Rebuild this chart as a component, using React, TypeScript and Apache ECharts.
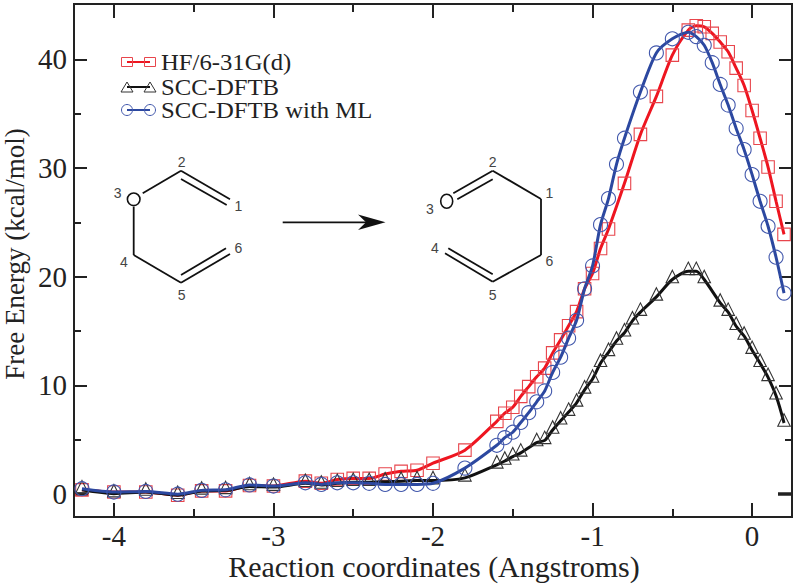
import React, { useEffect, useRef } from "react";
import * as echarts from "echarts";

const seriesNames = ["HF/6-31G(d)", "SCC-DFTB", "SCC-DFTB with ML"];
const xAxisTitle = "Reaction coordinates (Angstroms)";
const yAxisTitle = "Free Energy (kcal/mol)";
const xMajor = [-4, -3, -2, -1, 0];
const xMinor = [-3.5, -2.5, -1.5, -0.5];
const yMajor = [0, 10, 20, 30, 40];
const yMinor = [5, 15, 25, 35];
const yZero = [0];

const redX = [-4.2,-4,-3.8,-3.6,-3.45,-3.3,-3.15,-3,-2.8,-2.7,-2.6,-2.5,-2.4,-2.3,-2.2,-2.1,-2,-1.8,-1.6,-1.55,-1.5,-1.45,-1.4,-1.35,-1.3,-1.25,-1.2,-1.15,-1.1,-1.05,-1,-0.95,-0.9,-0.8,-0.7,-0.6,-0.5,-0.4,-0.35,-0.3,-0.25,-0.2,-0.15,-0.1,-0.05,0,0.05,0.1,0.15,0.2];
const redY = [0.4,0.2,0.2,-0.1,0.3,0.3,0.8,0.75,1.2,1.0,1.35,1.45,1.45,1.85,2.1,2.2,2.85,4.05,6.7,7.45,8,9,9.9,10.8,11.6,13,14.2,15.5,16.8,18.9,20.3,22.6,24.4,28.6,33.1,36.6,40.4,42.7,43.1,43,42.4,41.6,40.7,39.2,37.6,35.3,32.75,30.1,26.95,23.9];

const blackX = [-4.2,-4,-3.8,-3.6,-3.45,-3.3,-3.15,-3,-2.8,-2.7,-2.6,-2.5,-2.4,-2.3,-2.2,-2.1,-2,-1.8,-1.6,-1.55,-1.5,-1.45,-1.35,-1.3,-1.25,-1.2,-1.15,-1.1,-1.05,-1,-0.95,-0.9,-0.85,-0.8,-0.75,-0.7,-0.6,-0.5,-0.4,-0.35,-0.3,-0.2,-0.15,-0.1,-0.05,0,0.05,0.1,0.15,0.2];
const blackY = [0.4,0.05,0.2,-0.1,0.3,0.35,0.7,0.65,1.0,0.85,1.0,1.1,1.1,1.15,1.2,1.25,1.25,1.5,2.7,3.05,3.45,3.8,4.75,4.95,5.9,6.75,7.55,8.4,9.6,10.6,12.05,13.05,14.1,14.85,15.95,16.75,18.15,19.75,20.5,20.5,19.75,17.6,16.75,15.45,14.55,13.25,12.05,10.75,9.05,6.55];

const blueX = [-4.2,-4,-3.8,-3.6,-3.45,-3.3,-3.15,-3,-2.8,-2.7,-2.6,-2.5,-2.4,-2.3,-2.2,-2.1,-2,-1.8,-1.6,-1.55,-1.5,-1.45,-1.4,-1.35,-1.3,-1.25,-1.2,-1.15,-1.1,-1.05,-1,-0.95,-0.9,-0.85,-0.8,-0.7,-0.6,-0.5,-0.4,-0.35,-0.3,-0.25,-0.2,-0.15,-0.1,-0.05,0,0.05,0.1,0.15,0.2];
const blueY = [0.5,0.2,0.25,0,0.35,0.4,0.85,0.75,1.05,0.9,1.05,1.05,1.0,0.9,0.9,0.9,1.0,2.4,4.5,5.2,5.7,6.6,7.5,8.5,9.5,11.2,12.6,14.35,16,18.9,21,24.8,27.2,30.35,32.75,37,40.6,41.9,42.5,42.1,41.3,39.7,37.7,35.8,33.65,31.7,29.4,26.95,24.65,21.8,18.5];

const zip = (xs: number[], ys: number[]) => xs.map((x, i) => [x, ys[i]]);

const SERIF = "Liberation Serif";
const SANS = "Liberation Sans";
const INK = "#222";
const RED = "#ee1520";
const RED_MARK = "#e8454c";
const BLACK = "#111";
const BLACK_MARK = "#333";
const BLUE = "#2c48a0";
const BLUE_MARK = "#4258ac";

const bond = (x1: number, y1: number, x2: number, y2: number) => ({
  type: "line", silent: true, z: 20,
  shape: { x1, y1, x2, y2 },
  style: { stroke: "#111", lineWidth: 1.8 },
});
const atom = (text: string, x: number, y: number) => ({
  type: "text", silent: true, z: 20, x, y,
  style: { text, fontFamily: SANS, fontSize: 14, fill: "#444", align: "center", verticalAlign: "middle" },
});
const legendRow = (y: number, i: number) => {
  const c = [RED, BLACK, BLUE][i];
  const m = [RED_MARK, BLACK_MARK, BLUE_MARK][i];
  const mark = (x: number) => {
    const base = { silent: true, z: 21, style: { fill: "none", stroke: m, lineWidth: 1 } };
    if (i === 0) return { ...base, type: "rect", shape: { x: x - 5.5, y: y - 4.5, width: 11, height: 9 } };
    if (i === 1) return { ...base, type: "polygon", shape: { points: [[x - 6, y + 5], [x, y - 5], [x + 6, y + 5]] } };
    return { ...base, type: "circle", shape: { cx: x, cy: y, r: 5.5 } };
  };
  return [
    { type: "line", silent: true, z: 20, shape: { x1: 127, y1: y, x2: 150, y2: y }, style: { stroke: c, lineWidth: 2 } },
    mark(127), mark(150),
    { type: "text", silent: true, z: 20, x: 161, y, scaleX: 1.074, style: { text: seriesNames[i], fontFamily: SERIF, fontSize: 23, fill: "#222", verticalAlign: "middle" } },
  ];
};

const xAx = (position: string, ticks: number[], length: number, labels: number[]) => ({
  type: "value", min: -4.25, max: 0.25, position, scale: false,
  axisLine: { show: true, onZero: false, lineStyle: { color: INK, width: 2 } },
  axisTick: { show: true, inside: true, length, customValues: ticks, lineStyle: { color: INK, width: 2 } },
  axisLabel: labels.length
    ? { show: true, customValues: labels, margin: 4, fontFamily: SERIF, fontSize: 29, color: INK, formatter: (v: number) => String(v) }
    : { show: false },
  splitLine: { show: false },
});
const yAx = (position: string, ticks: number[], length: number, labels: number[], width = 2) => ({
  type: "value", min: -2.1, max: 45.1, position,
  axisLine: { show: true, onZero: false, lineStyle: { color: INK, width: 2 } },
  axisTick: { show: true, inside: true, length, customValues: ticks, lineStyle: { color: INK, width } },
  axisLabel: labels.length
    ? { show: true, customValues: labels, margin: 7, fontFamily: SERIF, fontSize: 29, color: INK, formatter: (v: number) => String(v) }
    : { show: false },
  splitLine: { show: false },
});
const line = (name: string, data: number[][], color: string, mark: string, symbol: string, size: number, z: number, offset: number[]) => ({
  type: "line", name, data, xAxisIndex: 0, yAxisIndex: 0, z,
  smooth: 0.25, symbol, symbolSize: size, symbolOffset: offset, showSymbol: true, showAllSymbol: true,
  lineStyle: { color, width: 3 },
  itemStyle: { color: "rgba(0,0,0,0)", borderColor: mark, borderWidth: 1.1 },
  emphasis: { disabled: true },
});

export default function App() {
  const ref = useRef<HTMLDivElement>(null);
  useEffect(() => {
    const chart = echarts.init(ref.current!, undefined, { renderer: "svg" });
    chart.setOption({
      animation: false,
      backgroundColor: "#fff",
      textStyle: { fontFamily: SERIF },
      grid: { left: 74, right: 5, top: 4, bottom: 68, containLabel: false },
      xAxis: [
        xAx("bottom", xMajor, 14, xMajor),
        xAx("bottom", xMinor, 8, []),
        xAx("top", xMajor, 14, []),
        xAx("top", xMinor, 8, []),
      ],
      yAxis: [
        yAx("left", yMajor, 13, yMajor),
        yAx("left", yMinor, 7, []),
        yAx("right", yMajor, 13, []),
        yAx("right", yMinor, 7, []),
        yAx("left", yZero, 14, [], 3.5),
        yAx("right", yZero, 14, [], 3.5),
      ],
      series: [
        line(seriesNames[0], zip(redX, redY), RED, RED_MARK, "rect", 12.5, 3, [0, 0]),
        line(seriesNames[1], zip(blackX, blackY), BLACK, BLACK_MARK, "triangle", 12.5, 4, [0, -3]),
        line(seriesNames[2], zip(blueX, blueY), BLUE, BLUE_MARK, "circle", 14, 5, [0, 0]),
      ],
      graphic: [
        { type: "text", silent: true, x: 434, y: 566, style: { text: xAxisTitle, fontFamily: SERIF, fontSize: 30, fill: INK, align: "center", verticalAlign: "middle" } },
        { type: "text", silent: true, x: 15, y: 254, rotation: Math.PI / 2, style: { text: yAxisTitle, fontFamily: SERIF, fontSize: 27, fill: INK, align: "center", verticalAlign: "middle" } },
        ...legendRow(62, 0), ...legendRow(87, 1), ...legendRow(110, 2),
        // reactant
        { type: "ellipse", silent: true, z: 20, shape: { cx: 133.7, cy: 199.3, rx: 6.3, ry: 6.3 }, style: { fill: "none", stroke: "#111", lineWidth: 1.6 } },
        bond(142.7, 193.3, 181, 170.7), bond(181, 170.7, 230, 199.3), bond(181, 179, 226.7, 205),
        bond(133.7, 206.7, 133.7, 255), bond(133.7, 255, 181, 282.7), bond(181, 282.7, 230, 254), bond(181, 275, 226, 248.3),
        atom("2", 181.7, 161.7), atom("3", 117.7, 193.3), atom("1", 238.3, 206), atom("6", 238.3, 247.7), atom("4", 124, 261.7), atom("5", 181.7, 295),
        // arrow
        bond(282.7, 222.3, 370, 222.3),
        { type: "polygon", silent: true, z: 20, shape: { points: [[358, 214.5], [385.5, 222.3], [358, 230], [366, 222.3]] }, style: { fill: "#111" } },
        // product
        { type: "ellipse", silent: true, z: 20, shape: { cx: 446.7, cy: 201.3, rx: 6, ry: 7 }, style: { fill: "none", stroke: "#111", lineWidth: 1.6 } },
        bond(492.7, 170.7, 453.3, 193.3), bond(492.7, 179.3, 457.3, 199.3), bond(492.7, 170.7, 541, 199), bond(541, 199, 541, 255),
        bond(541, 255, 492.7, 281.7), bond(492.7, 281.7, 445, 253.3), bond(492.7, 274.3, 448.3, 248.3),
        atom("2", 492.7, 161.7), atom("1", 549.3, 192.7), atom("3", 430, 209), atom("4", 435, 247.7), atom("6", 549.3, 261), atom("5", 492.7, 295),
      ],
    });
    return () => chart.dispose();
  }, []);
  return <div ref={ref} style={{ position: "absolute", left: 0, top: 0, width: 797, height: 585 }} />;
}
